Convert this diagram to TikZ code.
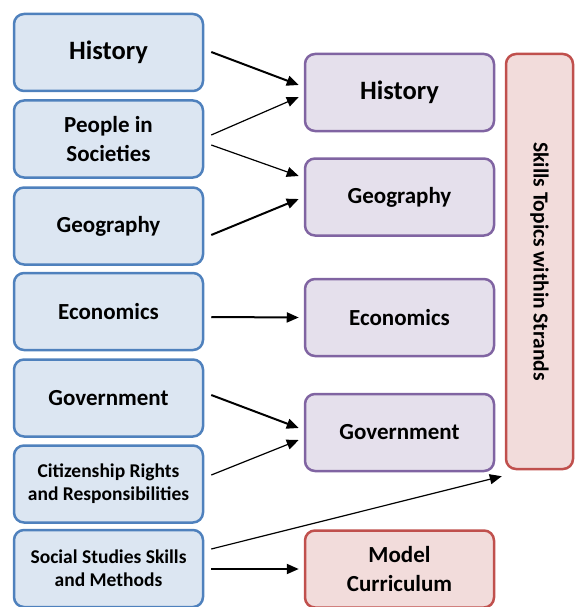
\documentclass[tikz,border=0pt]{standalone}
\usepackage{fontspec}
\setmainfont{Carlito}
\usetikzlibrary{arrows.meta}

\definecolor{bluefill}{HTML}{DCE6F2}
\definecolor{blueline}{HTML}{4F81BD}
\definecolor{purplefill}{HTML}{E5E0EC}
\definecolor{purpleline}{HTML}{8064A2}
\definecolor{redfill}{HTML}{F2DCDB}
\definecolor{redline}{HTML}{C0504D}

\tikzset{
  strandbox/.style={draw=blueline, fill=bluefill, line width=2.5pt, rounded corners=10pt,
    minimum width=189pt, minimum height=77pt, align=center, font=\bfseries\fontsize{23}{29}\selectfont},
  topicbox/.style={strandbox, draw=purpleline, fill=purplefill},
  goalbox/.style={strandbox, draw=redline, fill=redfill},
  bigtext/.style={font=\bfseries\fontsize{26.5}{31}\selectfont},
  smalltext/.style={font=\bfseries\fontsize{19.5}{23}\selectfont},
  bigarrow/.style={-{Triangle[length=12pt,width=10pt]}, line width=2pt},
  thinarrow/.style={-{Triangle[length=12pt,width=10pt]}, line width=1.2pt},
}

\begin{document}
\begin{tikzpicture}[x=1pt,y=-1pt]
    \useasboundingbox (0,0) rectangle (576,607);
    % strands
    \node[strandbox, bigtext] (lhist) at (108.5,52.5) {History};
    \node[strandbox] (lpeople) at (108.5,139) {People in\\Societies};
    \node[strandbox] (lgeo) at (108.5,226) {Geography};
    \node[strandbox] (lecon) at (108.5,311.5) {Economics};
    \node[strandbox] (lgov) at (108.5,398) {Government};
    \node[strandbox, smalltext] (lcit) at (108.5,484) {Citizenship Rights\\and Responsibilities};
    \node[strandbox, smalltext] (lskills) at (108.5,568.5) {Social Studies Skills\\and Methods};
    % topics
    \node[topicbox, bigtext] (rhist) at (399.5,92.5) {History};
    \node[topicbox] (rgeo) at (399.5,197) {Geography};
    \node[topicbox] (recon) at (399.5,317.5) {Economics};
    \node[topicbox] (rgov) at (399.5,432.5) {Government};
    \node[goalbox] (model) at (399.5,569) {Model\\Curriculum};
    \node[goalbox, minimum width=67pt, minimum height=415pt] (strands) at (539.5,261.5) {};
    \node[rotate=-90, font=\bfseries\fontsize{21.5}{26}\selectfont] (strandslabel) at (strands.center) {Skills Topics within Strands};

    \draw[bigarrow] ([shift={(7,-0.5)}]lhist.east) -- ([shift={(-5,-7.5)}]rhist.west);
    \draw[thinarrow] ([shift={(7,-4)}]lpeople.east) -- ([shift={(-5,4.5)}]rhist.west);
    \draw[thinarrow] ([shift={(7,6)}]lpeople.east) -- ([shift={(-5,-21)}]rgeo.west);
    \draw[bigarrow] ([shift={(7,9)}]lgeo.east) -- ([shift={(-5,2)}]rgeo.west);
    \draw[bigarrow] ([shift={(7,5.5)}]lecon.east) -- ([shift={(-5,0)}]recon.west);
    \draw[bigarrow] ([shift={(7,-3)}]lgov.east) -- ([shift={(-5,-4.5)}]rgov.west);
    \draw[thinarrow] ([shift={(7,-9)}]lcit.east) -- ([shift={(-5,7.5)}]rgov.west);
    \draw[thinarrow] ([shift={(7,-19.5)}]lskills.east) -- ([shift={(-3,6)}]strands.south west);
    \draw[bigarrow] ([shift={(7,0.5)}]lskills.east) -- ([shift={(-5,0)}]model.west);
\end{tikzpicture}
\end{document}
